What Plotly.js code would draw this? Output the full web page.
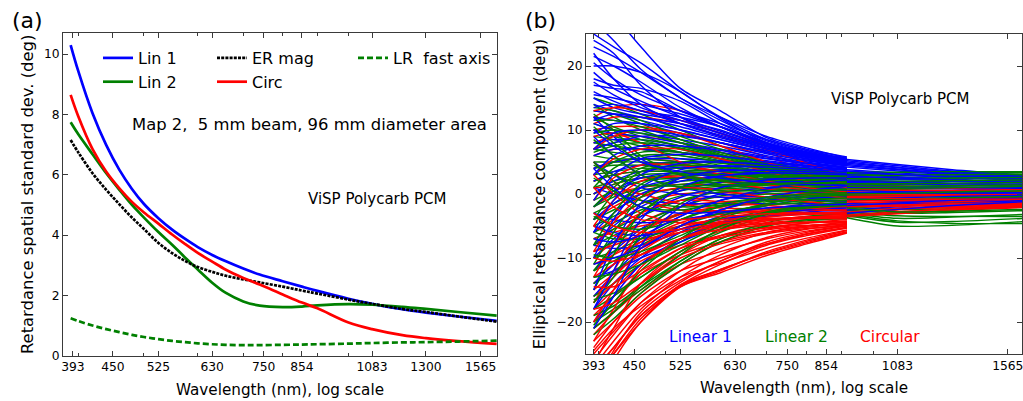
<!DOCTYPE html>
<html><head><meta charset="utf-8">
<script src="https://cdn.plot.ly/plotly-3.0.1.min.js"></script>
<style>html,body{margin:0;padding:0;background:#fff}#chart{width:1023px;height:401px}</style>
</head><body><div id="chart"></div>
<script>
// ---------- Panel (a): spatial standard deviation ----------
const wlA    = [390, 400, 420, 440, 460, 480, 500, 525, 550, 575, 600, 630, 660, 700, 740, 800, 854, 900, 1000, 1083, 1200, 1300, 1450, 1652];
const lin1A  = [10.3, 9.45, 8.04, 6.98, 6.16, 5.53, 5.03, 4.56, 4.18, 3.87, 3.60, 3.34, 3.13, 2.89, 2.69, 2.47, 2.29, 2.15, 1.89, 1.72, 1.54, 1.43, 1.30, 1.16];
const lin2A  = [7.74, 7.35, 6.68, 6.05, 5.50, 5.00, 4.58, 4.10, 3.68, 3.25, 2.86, 2.42, 2.08, 1.80, 1.66, 1.61, 1.63, 1.67, 1.71, 1.69, 1.62, 1.55, 1.45, 1.33];
const erMagA = [7.15, 6.75, 6.05, 5.50, 5.02, 4.58, 4.20, 3.74, 3.40, 3.14, 2.94, 2.78, 2.65, 2.53, 2.43, 2.29, 2.16, 2.06, 1.86, 1.72, 1.55, 1.45, 1.30, 1.13];
const circA  = [8.65, 7.95, 6.85, 6.10, 5.55, 5.10, 4.75, 4.38, 4.02, 3.70, 3.41, 3.12, 2.85, 2.58, 2.36, 2.03, 1.76, 1.57, 1.10, 0.88, 0.68, 0.58, 0.48, 0.39];
const lrFastA= [1.24, 1.15, 1.00, 0.88, 0.78, 0.69, 0.62, 0.55, 0.49, 0.45, 0.41, 0.38, 0.36, 0.35, 0.35, 0.36, 0.37, 0.38, 0.40, 0.42, 0.44, 0.45, 0.47, 0.50];

const tickValsA = [393, 450, 525, 630, 750, 854, 1083, 1300, 1565];
const tickValsB = [393, 450, 525, 630, 750, 854, 1083, 1565];
const minorVals = [400, 500, 600, 700, 800, 900, 1000];

// ---------- Panel (b): elliptical retardance components ----------
const wlVis = [393, 420, 460, 525, 600, 700, 800, 915];
const wlIR  = [915, 1083, 1300, 1650];

const lin1Vis = [
 [31, 28, 23, 16.5, 13, 8.8, 7, 5.8],
 [27, 24, 19.5, 15, 12, 9, 7.2, 5.6],
 [25, 23, 20.5, 16, 12, 8.5, 6.8, 5.5],
 [23, 21.5, 19, 15, 11.5, 8.3, 6.6, 5.3],
 [20, 20, 19, 16, 11.8, 8, 6.4, 5.2],
 [20.5, 18, 15.5, 13, 11, 8.5, 6.8, 5.5],
 [18, 17, 16.5, 14.5, 11, 8, 6.3, 5],
 [17, 16.5, 16, 13, 10.5, 7.8, 6.2, 4.9],
 [16, 14.5, 13, 12, 10.5, 7.8, 6.5, 5.6],
 [15, 13.5, 12.5, 11.5, 10, 7.5, 6, 4.8],
 [14, 13, 12, 11, 9.5, 7, 5.8, 4.7],
 [13, 12.5, 11.5, 10, 8.5, 6.8, 5.5, 4.5],
 [12, 11.5, 11, 9.5, 8, 6.5, 5.3, 4.4],
 [11, 10, 9.5, 8.5, 7.5, 6, 5, 4.2],
 [10, 9.5, 9, 8, 7, 5.8, 4.9, 4.1],
 [8, 8.5, 8.5, 7.5, 6.5, 5.5, 4.7, 4],
 [6, 7, 7, 6.5, 6, 5.2, 4.5, 3.8],
 [4, 5, 5.5, 5.5, 5.2, 4.8, 4.3, 3.7],
 [2, 3.5, 4.5, 5, 5, 4.5, 4, 3.5],
 [0, 2, 3.5, 4.2, 4.3, 4.2, 3.8, 3.3],
 [-2, 0.5, 2.5, 3.5, 3.8, 3.8, 3.5, 3.1],
 [-4, -1.5, 1, 2.5, 3.2, 3.4, 3.2, 2.9],
 [-6, -3, 0, 2, 2.8, 3.1, 3, 2.8],
 [-8, -5, -2, 0.5, 1.8, 2.4, 2.5, 2.4],
 [-10, -7, -3.5, -0.5, 1, 1.8, 2, 2],
 [-12, -9, -5.5, -2, 0, 1, 1.4, 1.5],
 [-14, -11, -7, -3.5, -1, 0.3, 0.8, 1],
 [-16, -12.5, -8.5, -5, -2.5, -0.8, 0, 0.5],
 [-18, -14, -10, -6, -3.5, -1.8, -0.8, -0.2],
 [-20, -16, -11, -7, -4.5, -2.8, -1.8, -1.2],
 [-13, -12, -10, -7.5, -5, -3.5, -2.8, -2.5],
 [-8, -8.5, -8, -6, -4.5, -3.5, -3, -2.8],
 [5, 3, 1, 0, -0.5, -0.8, -1, -1],
 [9, 6, 3, 1, 0, -0.5, -0.5, -0.5],
 [12, 9, 5.5, 3, 1.5, 0.8, 0.5, 0.3],
 [1, 0, -1, -1.5, -1.5, -1.5, -1.5, -1.5],
 [-3, -4, -4.5, -4, -3, -2.2, -1.8, -1.7],
 [7, 8, 9, 9, 8, 6.5, 5.5, 4.6],
 [-5, -6, -6.5, -5.5, -4, -3, -2.5, -2.2],
 [15.5, 15, 14, 12.5, 10.5, 8, 6.5, 5.3],
 [24, 22, 17, 12, 9.5, 7.5, 6.2, 5.2],
 [22, 18, 14, 11, 9, 7.2, 6, 5.1],
 [19, 16.5, 14.5, 12, 9.8, 7.6, 6.2, 5.3],
 [21.5, 20, 17.5, 13.5, 10.5, 7.8, 6.4, 5.4],
 [17.5, 15.5, 13.5, 11.5, 9.5, 7.4, 6.1, 5.1],
 [13.5, 14, 13, 11, 9.2, 7.2, 5.9, 5.0],
 [11.5, 12.5, 12, 10.5, 8.8, 7, 5.7, 4.8],
 [9.5, 11, 11, 10, 8.5, 6.7, 5.5, 4.6],
 [7, 9.5, 10, 9.2, 8, 6.3, 5.2, 4.4],
 [3, 6, 7.5, 7.5, 6.8, 5.6, 4.8, 4.1],
 [-1, 3, 5.5, 6.2, 5.9, 5, 4.4, 3.9],
 [-6, -1, 3, 4.8, 5, 4.6, 4.1, 3.7],
 [-10, -4, 1, 3.8, 4.4, 4.2, 3.8, 3.5],
 [-15, -8, -1.5, 2.5, 3.6, 3.7, 3.5, 3.2],
 [-18, -12, -4, 1, 2.8, 3.3, 3.2, 3.0],
 [-21, -16, -8, -2, 1, 2.2, 2.5, 2.5],
 [-11, -10, -8.5, -5, -2.5, -0.5, 0.5, 1.2],
 [-7, -7.5, -6.5, -3.5, -1, 0.8, 1.8, 2.2],
 [4, 1, -2, -3, -2.8, -2.2, -1.8, -1.6],
 [10, 7.5, 5, 3.5, 2.5, 1.8, 1.5, 1.3]
];
const lin2Vis = [
 [15, 14, 12.5, 10, 7.5, 5, 3.8, 3.2],
 [14, 12, 10, 8, 6, 4.5, 3.6, 3.0],
 [13, 12.5, 11, 8.5, 6.5, 4.8, 3.6, 3],
 [12, 10.5, 9, 7.5, 6, 4.5, 3.5, 2.9],
 [11, 10, 8.5, 7, 5.5, 4.2, 3.3, 2.8],
 [10, 9, 8, 6.5, 5.2, 4, 3.2, 2.7],
 [9, 8.5, 7.5, 6.5, 5.5, 4.2, 3.3, 2.7],
 [8, 7.5, 7, 6, 5, 3.8, 3, 2.5],
 [7, 6.5, 6, 5.5, 4.5, 3.6, 2.9, 2.4],
 [6, 5.5, 5.5, 5, 4.3, 3.4, 2.7, 2.3],
 [5, 5, 5, 4.6, 4, 3.2, 2.6, 2.2],
 [4, 4.5, 4.5, 4.2, 3.7, 3, 2.4, 2],
 [3, 3.5, 4, 4, 3.5, 2.8, 2.3, 1.9],
 [2, 3, 3.5, 3.5, 3.2, 2.6, 2.1, 1.8],
 [1, 2, 3, 3.2, 3, 2.4, 2, 1.6],
 [0, 1.5, 2.5, 3, 2.8, 2.3, 1.9, 1.5],
 [-1, 0.5, 2, 2.5, 2.5, 2.1, 1.7, 1.4],
 [-2, -0.5, 1, 2, 2.2, 1.9, 1.6, 1.3],
 [-3, -1.5, 0.5, 1.5, 1.8, 1.7, 1.4, 1.2],
 [-4, -2.5, -0.5, 1, 1.5, 1.5, 1.3, 1.1],
 [-5, -3.5, -1.5, 0.5, 1.2, 1.3, 1.1, 1],
 [-6, -4.5, -2.5, -0.3, 0.8, 1, 1, 0.9],
 [-7, -5.5, -3.5, -1, 0.3, 0.7, 0.8, 0.7],
 [-8, -6.5, -4.5, -2, -0.3, 0.3, 0.5, 0.5],
 [-9, -7.5, -5.5, -3, -1, 0, 0.2, 0.3],
 [-10, -9, -7, -4, -1.8, -0.5, -0.1, 0],
 [-12, -10.5, -8, -5, -2.5, -1, -0.5, -0.3],
 [-14, -12, -9.5, -6, -3.5, -1.5, -0.8, -0.6],
 [-16, -14, -11, -7.5, -4.5, -2.5, -1.5, -1],
 [-18, -16, -13, -9, -6, -3.5, -2.5, -2],
 [-20, -18, -15, -10.5, -7, -4.5, -3.5, -3],
 [-22, -19.5, -15.5, -11, -7.5, -5, -4, -3.6],
 [-19, -17.5, -14.5, -10.5, -7, -5, -4.2, -3.8],
 [7, 8, 8.5, 7.5, 6, 4.5, 3.5, 3],
 [3, 5, 6.5, 6.5, 5.5, 4.2, 3.3, 2.8],
 [-2, 1, 4, 5, 4.8, 3.8, 3, 2.6],
 [-12, -8, -3, 1, 2.5, 2.8, 2.5, 2.2],
 [12.5, 10, 6, 3, 1.5, 0.8, 0.5, 0.4],
 [5, 2, -1, -2, -1.8, -1.2, -0.9, -0.7],
 [-6, -7, -7, -5, -3, -1.8, -1.3, -1],
 [13.5, 13, 11.5, 9, 7, 5, 3.9, 3.3],
 [11.5, 11.5, 10.5, 8.5, 6.5, 4.7, 3.7, 3.1],
 [9.5, 10, 9.5, 8, 6.2, 4.5, 3.6, 3.0],
 [6.5, 7.5, 8, 7.2, 5.8, 4.3, 3.4, 2.9],
 [1, 4, 6, 6, 5, 3.9, 3.1, 2.6],
 [-4, 0, 3.5, 4.5, 4.2, 3.4, 2.8, 2.4],
 [-8, -3, 1.5, 3.5, 3.5, 3, 2.6, 2.2],
 [-11, -6, -0.5, 2.5, 3, 2.7, 2.4, 2.1],
 [-15, -9.5, -3, 1, 2.2, 2.3, 2.1, 1.9],
 [-17, -13, -6.5, -1.5, 0.8, 1.6, 1.7, 1.6],
 [-20.5, -17, -12, -7, -3.5, -1.5, -0.5, -0.2],
 [-21, -18.5, -14.5, -9.5, -5.5, -3, -2, -1.6],
 [-16.5, -15.5, -13, -9, -5.5, -3.2, -2.2, -1.8],
 [-13, -12.5, -11, -8, -5, -2.8, -1.8, -1.3],
 [-9.5, -10, -9, -6.5, -3.8, -1.8, -1, -0.6],
 [-3.5, -5, -5.5, -4, -2, -0.8, -0.3, 0],
 [2.5, 0.5, -2, -2.5, -1.5, -0.5, 0, 0.2],
 [8.5, 6, 3, 1, 0.5, 0.5, 0.6, 0.7],
 [10.5, 8, 5, 3, 2, 1.6, 1.4, 1.3],
 [4.5, 3, 1.5, 1.2, 1.4, 1.6, 1.7, 1.7]
];
const circVis = [
 [12, 13.5, 14, 13, 10.5, 7.5, 5, 3],
 [11, 12, 12, 11, 9, 6.5, 4.2, 2.5],
 [10, 10.5, 10.5, 9.5, 8, 5.8, 3.8, 2],
 [8, 9, 9, 8, 6.5, 4.8, 3.2, 1.8],
 [6, 7, 7, 6.5, 5.5, 4, 2.6, 1.5],
 [4, 5, 5.5, 5, 4.2, 3, 2, 1.2],
 [2, 3, 3.5, 3.5, 3, 2.2, 1.4, 0.8],
 [0, 1.5, 2.5, 2.5, 2.2, 1.5, 0.9, 0.5],
 [-2, 0, 1, 1.5, 1.4, 1, 0.5, 0.2],
 [-4, -2, 0, 0.8, 0.8, 0.5, 0.2, -0.1],
 [-6, -4, -1.5, 0, 0.2, 0, -0.2, -0.4],
 [-8, -5.5, -3, -1, -0.5, -0.5, -0.6, -0.8],
 [-10, -7.5, -4.5, -2, -1.2, -1, -1, -1.2],
 [-12, -9.5, -6, -3.2, -2, -1.6, -1.5, -1.6],
 [-14, -11, -7.5, -4.5, -3, -2.3, -2, -2],
 [-16, -13, -9, -5.5, -3.8, -3, -2.5, -2.4],
 [-18, -15, -11, -7, -4.8, -3.6, -3, -2.8],
 [-20, -17, -12.5, -8.5, -5.8, -4.2, -3.5, -3.2],
 [-22, -18.5, -14, -9.5, -6.5, -4.8, -4, -3.6],
 [-24, -20, -15.5, -11, -7.5, -5.5, -4.5, -4],
 [-26, -22, -17, -12, -8.5, -6, -5, -4.4],
 [-27, -23, -18, -13, -9.5, -6.8, -5.5, -4.8],
 [-28, -24, -19, -14.2, -11, -8, -6.5, -5.3],
 [-29, -25, -19.5, -14.5, -12.3, -9.6, -7.8, -6.1],
 [-27.5, -24, -19, -14.3, -11.8, -9.2, -7.4, -5.9],
 [-25, -21.5, -17, -13, -10.8, -8.5, -6.9, -5.6],
 [-23, -20, -16, -12, -10, -7.8, -6.3, -5.2],
 [-21, -18.5, -15, -11, -9, -7, -5.8, -5],
 [-19, -16, -12.5, -9.5, -7.5, -6, -5.2, -4.6],
 [-17, -14, -10.5, -8, -6.5, -5.2, -4.6, -4.2],
 [-15, -12.5, -9.5, -7, -5.5, -4.5, -4, -3.8],
 [-13, -11, -8.5, -6, -4.8, -4, -3.6, -3.4],
 [-11, -9.5, -7.5, -5.5, -4.3, -3.6, -3.2, -3],
 [-9, -8, -6.5, -5, -4, -3.3, -3, -2.8],
 [-7, -6, -5, -4, -3.2, -2.8, -2.6, -2.5],
 [5, 2, -1, -2.5, -2.8, -2.6, -2.4, -2.2],
 [9, 9.5, 8, 5, 3, 1.5, 0.6, 0],
 [1, 1, 0, -1.5, -2.2, -2.3, -2.2, -2],
 [-5, -6.5, -7, -6, -5, -4.2, -3.8, -3.6],
 [3, 0, -3, -4.5, -4.5, -4, -3.6, -3.4],
 [13, 13.5, 13, 11.5, 9.5, 7, 4.8, 2.8],
 [7, 9, 10, 9.5, 7.5, 5, 3, 1.6],
 [3, 5.5, 7, 7, 5.5, 3.5, 2, 1],
 [-1, 2.5, 4.5, 4.5, 3.5, 2, 1, 0.3],
 [-5, -1, 2, 2.8, 2, 0.8, 0, -0.6],
 [-9, -4.5, -0.5, 1, 0.5, -0.5, -1.2, -1.8],
 [-13, -8, -3, -1, -1.2, -1.8, -2.2, -2.6],
 [-17, -12, -6, -3, -2.6, -2.8, -3, -3.2],
 [-20, -15, -8.5, -5, -4, -3.8, -3.8, -3.9],
 [-23, -18, -11.5, -7, -5.2, -4.6, -4.4, -4.4],
 [-26.5, -21, -14, -9, -6.5, -5.3, -4.9, -4.7],
 [-30, -24.5, -18.5, -13.8, -10.5, -7.5, -6, -5.0],
 [-32, -26, -20, -14.2, -11.8, -9.3, -7.6, -6.0],
 [-28.5, -25, -20, -14.5, -12, -9, -7.2, -5.7],
 [-24.5, -21, -17.5, -13.5, -10.5, -7.8, -6.2, -5.3],
 [-18, -17, -14, -10, -7.8, -6.2, -5.4, -5.0],
 [-14.5, -14.5, -12, -8.5, -6.8, -5.6, -5.0, -4.7],
 [-10, -10.5, -9.5, -7, -5.6, -4.8, -4.4, -4.3],
 [-3, -5, -6, -5.5, -4.6, -4, -3.8, -3.7],
 [1, -2, -4, -4, -3.5, -3.1, -3, -3]
];

const lin1IR = [
 [5.4, 4.6, 3.8, 3.0], [5.2, 4.4, 3.6, 2.9], [5.0, 4.2, 3.4, 2.8], [4.6, 3.9, 3.2, 2.6],
 [4.2, 3.6, 3.0, 2.5], [3.8, 3.3, 2.8, 2.3], [3.4, 3.0, 2.6, 2.1], [3.0, 2.7, 2.3, 1.9],
 [2.6, 2.3, 2.0, 1.7], [2.2, 2.0, 1.7, 1.5], [1.8, 1.6, 1.4, 1.2], [1.4, 1.2, 1.1, 1.0],
 [1.0, 0.9, 0.8, 0.7], [0.5, 0.4, 0.4, 0.4], [0, 0, 0, 0], [-0.5, -0.4, -0.3, -0.2],
 [-1.0, -0.8, -0.6, -0.4], [-1.5, -1.2, -0.9, -0.6], [-2.0, -1.6, -1.2, -0.8], [-2.5, -2.0, -1.5, -1.0],
 [4.8, 4.1, 3.4, 2.7], [4.4, 3.8, 3.1, 2.5], [3.6, 3.1, 2.6, 2.2], [2.8, 2.5, 2.2, 1.8],
 [2.0, 1.8, 1.6, 1.4], [1.2, 1.1, 1.0, 0.9], [0.2, 0.2, 0.2, 0.2], [-0.8, -0.6, -0.4, -0.2],
 [-1.8, -1.4, -1.0, -0.6], [-3.0, -2.4, -1.8, -1.2]
];
const lin2IR = [
 [3.2, 3.3, 3.3, 3.4], [3.0, 3.0, 3.0, 3.1], [2.6, 2.6, 2.7, 2.8], [2.2, 2.3, 2.4, 2.5],
 [1.8, 1.9, 2.0, 2.1], [1.4, 1.5, 1.6, 1.8], [1.0, 1.1, 1.3, 1.5], [0.6, 0.7, 0.9, 1.1],
 [0.2, 0.3, 0.5, 0.7], [-0.2, -0.1, 0.1, 0.3], [-0.6, -0.5, -0.3, -0.1], [-1.0, -0.9, -0.7, -0.5],
 [-1.5, -1.6, -1.4, -1.2], [-2.0, -2.4, -2.3, -2.0], [-2.5, -3.0, -2.9, -2.6], [-3.0, -3.8, -3.6, -3.2],
 [-3.4, -4.4, -4.3, -3.8], [-3.7, -5.0, -4.9, -4.3], [-3.2, -4.2, -4.6, -4.6], [-2.8, -3.4, -3.5, -3.5],
 [3.4, 3.4, 3.5, 3.5], [2.8, 2.9, 3.0, 3.1], [2.4, 2.4, 2.5, 2.6], [2.0, 2.0, 2.1, 2.2],
 [1.6, 1.6, 1.7, 1.8], [1.2, 1.2, 1.3, 1.4], [0.8, 0.9, 1.0, 1.2], [0.0, 0.1, 0.3, 0.5],
 [-0.8, -0.8, -0.6, -0.4], [-2.2, -2.8, -2.7, -2.4]
];
const circIR = [
 [1.5, 1.3, 1.1, 0.9], [1.0, 0.9, 0.8, 0.6], [0.6, 0.5, 0.4, 0.3], [0.2, 0.1, 0.1, 0.0],
 [-0.2, -0.2, -0.2, -0.2], [-0.6, -0.5, -0.4, -0.4], [-1.0, -0.9, -0.7, -0.6], [-1.4, -1.2, -1.0, -0.8],
 [-1.8, -1.5, -1.2, -1.0], [-2.2, -1.8, -1.5, -1.2], [-2.6, -2.2, -1.8, -1.4], [-3.0, -2.5, -2.0, -1.6],
 [-3.4, -2.8, -2.3, -1.8], [-3.6, -3.0, -2.5, -2.0], [-0.8, -0.9, -0.9, -0.9], [-1.6, -1.6, -1.5, -1.4],
 [-2.4, -2.3, -2.1, -1.9], [0.4, 0.0, -0.3, -0.5], [-1.2, -1.3, -1.2, -1.1], [-2.0, -1.9, -1.7, -1.5],
 [1.2, 1.1, 0.9, 0.7], [0.8, 0.6, 0.5, 0.4], [0.0, -0.1, -0.1, -0.1], [-0.4, -0.4, -0.3, -0.3],
 [-1.1, -1.0, -0.9, -0.8], [-1.9, -1.7, -1.5, -1.3], [-2.8, -2.4, -2.0, -1.6], [-3.3, -2.8, -2.3, -1.8],
 [-3.5, -3.1, -2.6, -2.1], [-0.5, -0.7, -0.8, -0.8]
];

// ---------- build ----------
const FONT = 'DejaVu Sans, sans-serif';
const BLUE = '#0000ff', GREEN = '#008000', RED = '#ff0000';
const W = 1023, H = 401;
const px = x => x / W, py = y => 1 - y / H;

const traces = [];
function addSpag(setList, xs) {
  const n = Math.max(...setList.map(s => s[0].length));
  for (let i = 0; i < n; i++) {
    setList.forEach(([arr, col]) => {
      if (arr[i]) traces.push({
        type: 'scatter', mode: 'lines', x: xs, y: arr[i], xaxis: 'x2', yaxis: 'y2',
        showlegend: false, hoverinfo: 'skip',
        line: {color: col, width: 1.45, shape: 'spline', smoothing: 0.8}
      });
    });
  }
}
addSpag([[lin1Vis, BLUE], [lin2Vis, GREEN], [circVis, RED]], wlVis);
addSpag([[lin1IR, BLUE], [lin2IR, GREEN], [circIR, RED]], wlIR);

function addA(y, name, color, dash, legend) {
  traces.push({type: 'scatter', mode: 'lines', x: wlA, y: y, name: name, legend: legend,
    xaxis: 'x', yaxis: 'y', line: {color: color, width: 2.7, dash: dash, shape: 'spline', smoothing: 1}});
}
addA(lin1A, 'Lin 1', BLUE, 'solid', 'legend');
addA(lin2A, 'Lin 2', GREEN, 'solid', 'legend');
addA(erMagA, 'ER mag', '#000000', '3px,1.2px', 'legend2');
addA(circA, 'Circ', RED, 'solid', 'legend2');
addA(lrFastA, 'LR\u00a0 fast axis', GREEN, '6px,3px', 'legend3');

const AX = '#3a3a3a';
function xAxis(domain, range, vals) {
  return {
    type: 'log', domain: domain, range: range, showline: true, linecolor: AX, linewidth: 1,
    mirror: 'ticks', ticks: 'inside', ticklen: 5, tickwidth: 1, tickcolor: AX,
    showgrid: false, zeroline: false, automargin: false, ticklabeloverflow: 'allow',
    tickmode: 'array', tickvals: vals, ticktext: vals.map(String),
    tickfont: {family: FONT, size: 12.3, color: '#000'},
    minor: {tickmode: 'array', tickvals: minorVals, ticks: 'inside', ticklen: 3, tickwidth: 1, tickcolor: AX, showgrid: false},
    title: {text: 'Wavelength (nm), log scale', font: {family: FONT, size: 15.2, color: '#000'}, standoff: 10}
  };
}
function yAxis(domain, range, dtick, title, anchor) {
  return {
    domain: domain, range: range, anchor: anchor, showline: true, linecolor: AX, linewidth: 1,
    mirror: 'ticks', ticks: 'inside', ticklen: 5, tickwidth: 1, tickcolor: AX,
    showgrid: false, zeroline: false, automargin: false, tick0: 0, dtick: dtick,
    tickfont: {family: FONT, size: 12.3, color: '#000'},
    title: {text: title, font: {family: FONT, size: 16.4, color: '#000'}, standoff: 6}
  };
}

const legendBase = {xanchor: 'left', yanchor: 'top', bgcolor: 'rgba(0,0,0,0)', borderwidth: 0,
  font: {family: FONT, size: 16, color: '#000'}, tracegroupgap: 0, itemwidth: 30, orientation: 'v'};

const layout = {
  width: W, height: H, margin: {l: 0, r: 0, t: 0, b: 0}, paper_bgcolor: '#fff', plot_bgcolor: '#fff',
  font: {family: FONT, color: '#000'},
  xaxis: Object.assign(xAxis([px(63), px(497)], [Math.log10(380.0), Math.log10(1654)], tickValsA), {anchor: 'y'}),
  yaxis: yAxis([py(355.7), py(33)], [0, 10.7], 2, 'Retardance spatial standard dev. (deg)', 'x'),
  xaxis2: Object.assign(xAxis([px(586), px(1022)], [Math.log10(383.1), Math.log10(1641)], tickValsB), {anchor: 'y2'}),
  yaxis2: yAxis([py(354), py(34)], [-25, 25], 10, 'Elliptical retardance component (deg)', 'x2'),
  legend: Object.assign({}, legendBase, {x: px(98), y: py(41)}),
  legend2: Object.assign({}, legendBase, {x: px(212), y: py(41)}),
  legend3: Object.assign({}, legendBase, {x: px(353), y: py(41)}),
  showlegend: true,
  annotations: [
    {text: '(a)', x: px(27), y: py(20), font: {size: 22}},
    {text: '(b)', x: px(540), y: py(20), font: {size: 22}},
    {text: 'Map 2,\u00a0 5 mm beam, 96 mm diameter area', x: px(309), y: py(124), font: {size: 16.4}},
    {text: 'ViSP Polycarb PCM', x: px(377), y: py(199), font: {size: 15}},
    {text: 'ViSP Polycarb PCM', x: px(900), y: py(99), font: {size: 15}},
    {text: 'Linear 1', x: px(700), y: py(337), font: {size: 15.5, color: BLUE}},
    {text: 'Linear 2', x: px(796), y: py(337), font: {size: 15.5, color: GREEN}},
    {text: 'Circular', x: px(889.5), y: py(337), font: {size: 15.5, color: RED}}
  ].map(a => Object.assign({xref: 'paper', yref: 'paper', showarrow: false, xanchor: 'center', yanchor: 'middle'}, a,
        {font: Object.assign({family: FONT, color: '#000'}, a.font)}))
};

Plotly.newPlot('chart', traces, layout, {staticPlot: true, displayModeBar: false});
</script>
</body></html>
